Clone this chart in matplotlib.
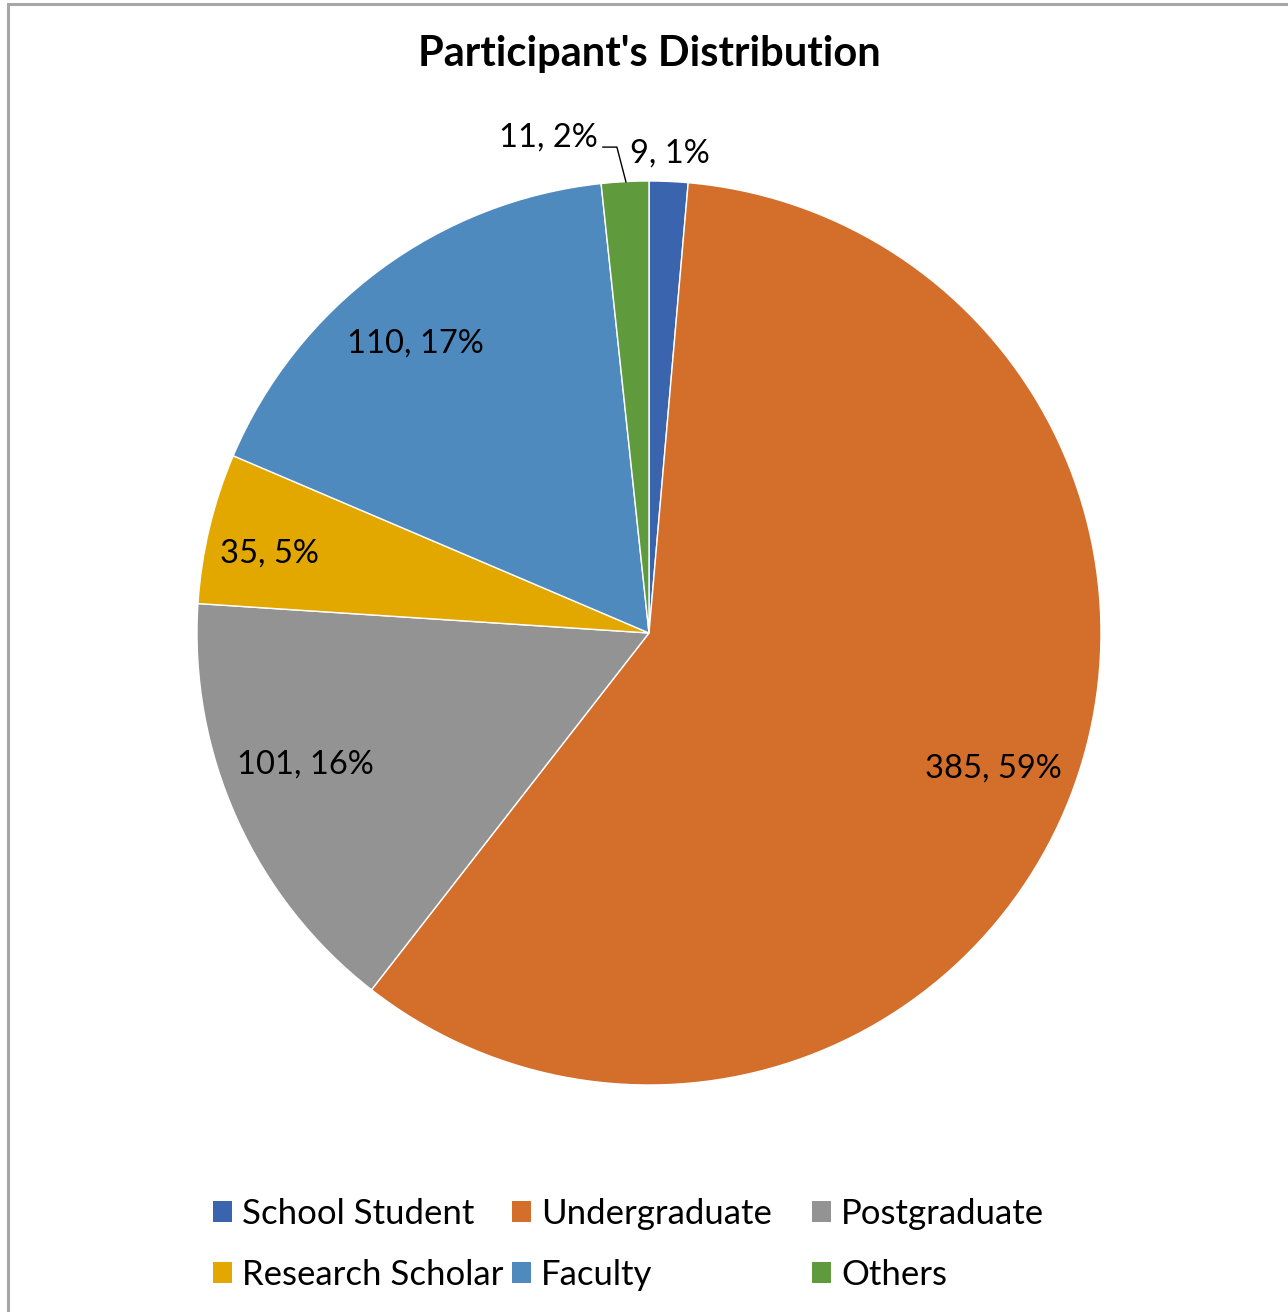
import matplotlib
matplotlib.use("Agg")
import matplotlib.pyplot as plt
import numpy as np
from matplotlib.patches import Rectangle

categories = ["School Student", "Undergraduate", "Postgraduate", "Research Scholar", "Faculty", "Others"]
values = [9, 385, 101, 35, 110, 11]
percent_labels = ["1%", "59%", "16%", "5%", "17%", "2%"]
colors = ["#3A64AE", "#D36E2B", "#939393", "#E2A800", "#4F8ABE", "#5F9B3C"]
label_dist = [1.06, 0.818, 0.815, 0.857, 0.823, 1.10]
label_angle_shift = [0, 0, -3.2, 1.6, 2.5, 0]

plt.rcParams['font.family'] = ['Lato', 'DejaVu Sans']

W, H = 1288, 1312
fig = plt.figure(figsize=(W / 100, H / 100), dpi=100)
fig.patch.set_facecolor("white")

# frame border (partially cropped in reference)
fig.add_artist(Rectangle((8 / W, -0.05), 1.2, 1 - 4 / H + 0.05, transform=fig.transFigure,
                         fill=False, edgecolor="#A6A6A6", linewidth=2.2))

cx, cy, r = 649, 633, 452
ax = fig.add_axes([(cx - r) / W, 1 - (cy + r) / H, 2 * r / W, 2 * r / H])
wedges, _ = ax.pie(values, colors=colors, startangle=90, counterclock=False,
                   wedgeprops=dict(edgecolor="white", linewidth=1.0), radius=1.0)
ax.set_xlim(-1, 1)
ax.set_ylim(-1, 1)
ax.set_aspect("equal")
ax.axis("off")

LFS = 23.5
total = sum(values)
start = 90.0
for i, (v, p) in enumerate(zip(values, percent_labels)):
    span = v / total * 360
    mid_deg = start - span / 2
    start -= span
    mid = np.deg2rad(mid_deg + label_angle_shift[i])
    d = label_dist[i]
    x, y = d * np.cos(mid), d * np.sin(mid)
    txt = f"{v}, {p}"
    if i == 5:
        # leader line for small slice
        m = np.deg2rad(mid_deg)
        ex, ey = 0.998 * np.cos(m) + 0.0, 0.998
        ex = -0.051
        ax.plot([-0.102, -0.071, ex], [1.075, 1.075, ey], color="black", lw=1.0, clip_on=False)
        ax.text(-0.113, 1.097, txt, ha="right", va="center", fontsize=LFS, clip_on=False)
    elif i == 0:
        ax.text(-0.042, 1.06, txt, ha="left", va="center", fontsize=LFS, clip_on=False)
    else:
        ax.text(x, y, txt, ha="center", va="center", fontsize=LFS)

fig.text(649 / W, 1 - 54 / H, "Participant's Distribution", ha="center", va="center",
         fontsize=30, fontweight="bold")

# legend: three columns placed like the reference (row-wise order)
col_x = [213, 512, 812]
rows = [[0, 1, 2], [3, 4, 5]]
for c in range(3):
    idx = [rows[0][c], rows[1][c]]
    leg = fig.legend([wedges[k] for k in idx], [categories[k] for k in idx],
                     loc="upper left", bbox_to_anchor=(col_x[c] / W, 1 - 1198 / H),
                     frameon=False, fontsize=25, handlelength=0.55, handleheight=0.55,
                     handletextpad=0.29, labelspacing=0.84, borderpad=0, borderaxespad=0)
    for h in leg.legend_handles:
        h.set_edgecolor("none")

fig.savefig("out.png", dpi=100)
